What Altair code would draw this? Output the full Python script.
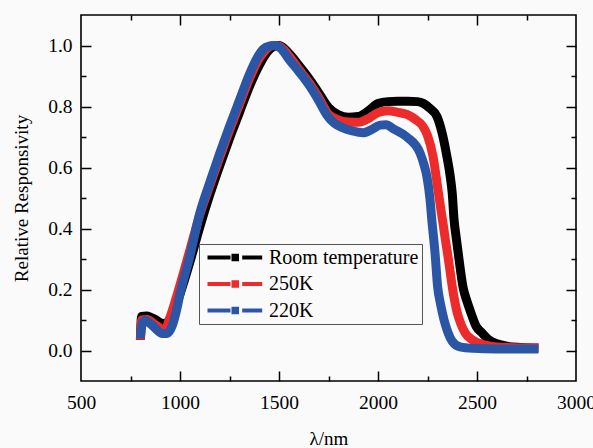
import altair as alt
import pandas as pd

# ---------------- data ----------------
rt_x = [800, 806, 830, 855, 880, 905, 925, 950, 975, 1000, 1050, 1100, 1150, 1200, 1250, 1300, 1350, 1400, 1440, 1470,
        1500, 1530, 1560, 1600, 1650, 1700, 1750, 1800, 1850, 1900, 1950, 2000, 2050, 2100, 2150, 2200, 2230, 2260,
        2298, 2325, 2348, 2365, 2375, 2384, 2395, 2409, 2429, 2450, 2469, 2495, 2525, 2560, 2600, 2650, 2720, 2810]
rt_y = [0.035, 0.112, 0.113, 0.108, 0.100, 0.090, 0.088, 0.105, 0.140, 0.185, 0.290, 0.405, 0.510, 0.605, 0.695,
        0.780, 0.865, 0.935, 0.978, 0.996, 1.000, 0.988, 0.967, 0.935, 0.893, 0.845, 0.797, 0.773, 0.765, 0.767,
        0.785, 0.810, 0.816, 0.817, 0.817, 0.816, 0.810, 0.795, 0.767, 0.710, 0.636, 0.570, 0.515, 0.430, 0.370,
        0.300, 0.209, 0.160, 0.124, 0.080, 0.058, 0.035, 0.022, 0.014, 0.010, 0.008]

k250_x = [800, 807, 835, 860, 885, 910, 925, 950, 975, 1000, 1050, 1100, 1150, 1200, 1250, 1300, 1350, 1400, 1440,
          1470, 1500, 1530, 1560, 1600, 1650, 1700, 1750, 1800, 1850, 1900, 1950, 2000, 2050, 2100, 2146, 2190, 2227,
          2250, 2278, 2303, 2318, 2330, 2341, 2352, 2365, 2375, 2388, 2400, 2420, 2440, 2470, 2505, 2560, 2650, 2810]
k250_y = [0.035, 0.100, 0.102, 0.092, 0.080, 0.070, 0.070, 0.110, 0.160, 0.215, 0.330, 0.445, 0.540, 0.632, 0.722,
          0.806, 0.890, 0.958, 0.990, 1.000, 0.998, 0.982, 0.958, 0.922, 0.880, 0.830, 0.775, 0.756, 0.749, 0.748,
          0.760, 0.780, 0.786, 0.781, 0.774, 0.757, 0.735, 0.705, 0.636, 0.527, 0.460, 0.410, 0.360, 0.315, 0.255,
          0.209, 0.160, 0.124, 0.085, 0.058, 0.038, 0.025, 0.015, 0.010, 0.008]

k220_x = [800, 810, 825, 850, 880, 910, 935, 960, 980, 1000, 1050, 1100, 1150, 1200, 1250, 1300, 1350, 1390, 1420,
          1450, 1480, 1510, 1550, 1600, 1650, 1700, 1742, 1780, 1823, 1870, 1924, 1970, 2010, 2040, 2080, 2146, 2212,
          2232, 2247, 2262, 2273, 2288, 2301, 2315, 2325, 2340, 2354, 2375, 2414, 2480, 2600, 2810]
k220_y = [0.040, 0.090, 0.098, 0.088, 0.070, 0.056, 0.056, 0.080, 0.125, 0.185, 0.310, 0.450, 0.550, 0.645, 0.735,
          0.820, 0.905, 0.960, 0.988, 0.998, 1.000, 0.990, 0.955, 0.915, 0.872, 0.820, 0.772, 0.745, 0.730, 0.720,
          0.714, 0.725, 0.739, 0.740, 0.726, 0.700, 0.648, 0.610, 0.570, 0.500, 0.420, 0.320, 0.210, 0.155, 0.124,
          0.085, 0.058, 0.030, 0.012, 0.007, 0.005, 0.005]

series_names = ["Room temperature", "250K", "220K"]
series_colors = ["#000000", "#EE2B2B", "#2B56A6"]

x_labels = [500, 1000, 1500, 2000, 2500, 3000]
x_major = [1000, 1500, 2000, 2500]
x_minor = [750, 1250, 1750, 2250, 2750]
y_labels = [0.0, 0.2, 0.4, 0.6, 0.8, 1.0]
y_major = [0.0, 0.2, 0.4, 0.6, 0.8, 1.0]
y_minor = [0.1, 0.3, 0.5, 0.7, 0.9]

# ---------------- table ----------------
rows = []
for name, xs, ys in zip(series_names, [rt_x, k250_x, k220_x], [rt_y, k250_y, k220_y]):
    for i, (a, b) in enumerate(zip(xs, ys)):
        rows.append({"x": a, "y": b, "series": name, "i": i})
df = pd.DataFrame(rows)

W, H = 495, 366
FONT = "Liberation Serif"
FS = 19.5

xscale = alt.Scale(domain=[500, 3000], nice=False, zero=False)
yscale = alt.Scale(domain=[-0.1, 1.1], nice=False, zero=False)

def tick_axis(orient, values, size, offset):
    return alt.Axis(orient=orient, values=values, tickSize=size, offset=offset, labels=False,
                    domain=False, grid=False, title=None, ticks=True, tickColor="black", tickWidth=1.5)

legend_path = "M-1,0L3.6,0M3.8,-0.37L5.3,-0.37M3.8,0.37L5.3,0.37M5.94,0L9.94,0"

color = alt.Color(
    "series:N",
    scale=alt.Scale(domain=series_names, range=series_colors),
    legend=alt.Legend(
        title=None, orient="none", legendX=118, legendY=229,
        symbolType=legend_path, symbolSize=100, symbolStrokeWidth=4,
        labelOffset=46.5, labelFont=FONT, labelFontSize=20, labelColor="black",
        labelExpr="datum.label + '\u2002\u2002'",
        strokeColor="#555555", fillColor="#fafafa", padding=3.5, rowPadding=6.5,
    ),
)

base = alt.Chart(df)

def line_layer(name, xaxis, yaxis, visible=True):
    enc = dict(
        x=alt.X("x:Q", scale=xscale, axis=xaxis),
        y=alt.Y("y:Q", scale=yscale, axis=yaxis),
        order="i:Q",
        strokeWidth=alt.value(9),
    )
    if visible:
        enc["color"] = color
        mk = base.mark_line(interpolate="monotone", strokeCap="butt", strokeJoin="round")
    else:
        mk = base.mark_line(opacity=0)
    return mk.encode(**enc).transform_filter(alt.datum.series == name)

label_x_axis = alt.Axis(orient="bottom", values=x_labels, format="d", ticks=False, tickSize=0, domain=False,
                        grid=False, labelPadding=12, labelFlush=False, title="λ/nm", titlePadding=18,
                        labelFont=FONT, labelFontSize=FS, labelColor="black",
                        titleFont=FONT, titleFontSize=19, titleFontWeight="normal", titleColor="black")
label_y_axis = alt.Axis(orient="left", values=y_labels, format=".1f", ticks=False, tickSize=0, domain=False,
                        grid=False, labelPadding=9, labelFlush=False, title="Relative Responsivity",
                        titlePadding=16,
                        labelFont=FONT, labelFontSize=FS, labelColor="black",
                        titleFont=FONT, titleFontSize=19, titleFontWeight="normal", titleColor="black")

dummy1 = line_layer("220K", tick_axis("top", x_minor, 5, -H), tick_axis("right", y_minor, 5, -W), visible=False)
dummy2 = line_layer("220K", tick_axis("bottom", x_minor, 5, -H), tick_axis("left", y_minor, 5, -W), visible=False)
black = line_layer("Room temperature", label_x_axis, label_y_axis)
red = line_layer("250K", tick_axis("top", x_major, 10, -H), tick_axis("right", y_major, 10, -W))
blue = line_layer("220K", tick_axis("bottom", x_major, 10, -H), tick_axis("left", y_major, 10, -W))

chart = (
    alt.layer(dummy1, dummy2, black, red, blue)
    .resolve_axis(x="independent", y="independent")
    .properties(
        width=W, height=H,
        padding={"left": 81, "top": 15, "right": 17, "bottom": 67},
        autosize=alt.AutoSizeParams(type="none"),
        background="#fafafa",
    )
    .configure_view(stroke="black", strokeWidth=1.6)
    .configure_axis(
        labelFont=FONT, labelFontSize=FS, labelColor="black",
        titleFont=FONT, titleFontSize=19, titleFontWeight="normal", titleColor="black",
        tickColor="black", tickWidth=1.5,
    )
)

chart.save("out.html", embed_options={"renderer": "svg", "actions": False})
